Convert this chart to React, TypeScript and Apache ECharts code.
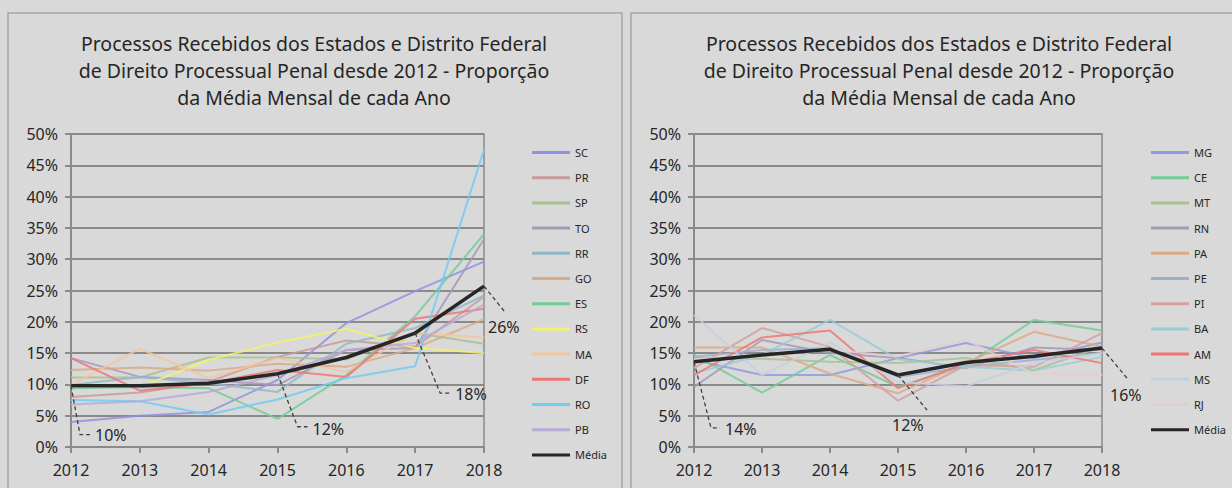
import React, { useEffect, useRef } from "react";
import * as echarts from "echarts";

const years = ["2012", "2013", "2014", "2015", "2016", "2017", "2018"];
const yTicks = { min: 0, max: 50, interval: 5 };

const titleLines = [
  "Processos Recebidos dos Estados e Distrito Federal",
  "de Direito Processual Penal desde 2012 - Proporção",
  "da Média Mensal de cada Ano",
];

// Left chart (values in %)
const leftNames = ["SC", "PR", "SP", "TO", "RR", "GO", "ES", "RS", "MA", "DF", "RO", "PB", "Média"];
const SC = [4.0, 5.0, 5.6, 10.7, 19.8, 24.9, 29.6];
const PR = [8.0, 8.7, 10.4, 14.4, 17.0, 16.0, 24.0];
const SP = [11.1, 11.1, 14.3, 14.3, 14.0, 18.2, 16.5];
const TO = [14.2, 11.2, 10.7, 9.9, 15.5, 15.8, 33.2];
const RR = [9.9, 11.2, 10.2, 8.8, 16.5, 19.0, 24.2];
const GO = [12.3, 12.7, 12.2, 13.3, 12.8, 15.8, 20.4];
const ES = [9.4, 9.6, 9.4, 4.5, 11.5, 20.9, 34.0];
const RS = [9.6, 9.6, 13.9, 16.7, 18.9, 15.8, 15.0];
const MA = [9.9, 15.7, 11.0, 14.2, 12.0, 18.2, 17.5];
const DF = [14.2, 9.0, 10.2, 12.3, 11.2, 20.5, 22.1];
const RO = [7.5, 7.3, 5.2, 7.6, 11.0, 12.9, 47.5];
const PB = [6.8, 7.3, 8.8, 11.5, 15.5, 16.6, 22.8];
const mediaLeft = [9.8, 9.8, 10.2, 11.7, 14.3, 18.2, 25.7];
const leftData = [SC, PR, SP, TO, RR, GO, ES, RS, MA, DF, RO, PB, mediaLeft];
const leftColors = ["#8f91e3", "#c99a9a", "#a9c18f", "#a699b8", "#90b8c4", "#d9aa86", "#72cc96", "#f2f26b", "#f4c59b", "#f07575", "#6fcdf0", "#b9a9d6", "#262626"];
const leftLabels = [
  { idx: 0, text: "10%" },
  { idx: 3, text: "12%" },
  { idx: 5, text: "18%" },
  { idx: 6, text: "26%" },
];

// Right chart (values in %)
const rightNames = ["MG", "CE", "MT", "RN", "PA", "PE", "PI", "BA", "AM", "MS", "RJ", "Média"];
const MG = [13.9, 11.5, 11.5, 14.2, 16.6, 14.2, 16.7];
const CE = [14.7, 8.7, 14.7, 9.6, 13.1, 20.3, 18.6];
const MT = [14.2, 14.1, 13.6, 13.4, 14.2, 12.3, 16.0];
const RN = [9.6, 17.1, 15.0, 14.2, 12.6, 15.9, 15.5];
const PA = [15.9, 15.9, 11.7, 8.6, 13.4, 18.4, 16.0];
const PE = [14.4, 15.5, 15.8, 11.2, 12.8, 13.9, 15.0];
const PI = [12.6, 19.0, 16.0, 7.4, 13.1, 12.8, 18.2];
const BA = [11.8, 14.7, 20.3, 14.0, 12.8, 12.2, 14.4];
const AM = [11.5, 17.5, 18.6, 9.4, 13.4, 15.5, 13.4];
const MS = [21.1, 11.5, 16.7, 10.4, 9.7, 13.4, 15.0];
const RJ = [14.0, 14.5, 15.5, 14.5, 17.1, 11.7, 11.5];
const mediaRight = [13.6, 14.7, 15.6, 11.5, 13.5, 14.5, 15.8];
const rightData = [MG, CE, MT, RN, PA, PE, PI, BA, AM, MS, RJ, mediaRight];
const rightColors = ["#8f99e3", "#72cc96", "#a9c18f", "#a699b8", "#dcaa82", "#9ab0d2", "#d4a0a0", "#98cdd6", "#f07575", "#c5cfe0", "#e6cccc", "#262626"];
const rightLabels = [
  { idx: 0, text: "14%" },
  { idx: 3, text: "12%" },
  { idx: 6, text: "16%" },
];

const FONT = "'Noto Sans', 'Open Sans', sans-serif";
const TEXT = "#262626";
const GRID = "#8a8a8a";

export default function App() {
  const ref = useRef<HTMLDivElement>(null);
  useEffect(() => {
    document.body.style.margin = "0";
    const chart = echarts.init(ref.current!, undefined, { renderer: "svg" });

    const mkGrid = (left: number, right: number) => ({
      left, right, top: 134, bottom: 41, show: true,
      borderColor: GRID, borderWidth: 1.5, backgroundColor: "transparent",
    });
    const mkX = (gi: number) => ({
      type: "category", gridIndex: gi, data: years, boundaryGap: false,
      axisLine: { lineStyle: { color: GRID, width: 2 } },
      axisTick: { show: true, length: 6, inside: false, lineStyle: { color: GRID, width: 2 } },
      axisLabel: { color: TEXT, fontSize: 16, fontFamily: FONT, margin: 15 },
      splitLine: { show: false },
    });
    const mkY = (gi: number) => ({
      type: "value", gridIndex: gi, ...yTicks,
      axisLine: { show: true, lineStyle: { color: GRID, width: 2 } },
      axisTick: { show: true, length: 6, lineStyle: { color: GRID, width: 2 } },
      axisLabel: { color: TEXT, fontSize: 16, fontFamily: FONT, margin: 13, formatter: "{value}%" },
      splitLine: { show: true, lineStyle: { color: GRID, width: 2 } },
    });
    const mkSeries = (names: string[], data: number[][], colors: string[], gi: number) =>
      names.map((n, i) => ({
        type: "line", name: n, xAxisIndex: gi, yAxisIndex: gi, data: data[i],
        symbol: "none", z: n === "Média" ? 5 : 2,
        color: colors[i],
        lineStyle: { color: colors[i], width: n === "Média" ? 3.5 : 2, opacity: n === "Média" ? 1 : 0.85 },
      }));
    const mkLegend = (names: string[], left: number) => ({
      orient: "vertical", left, top: 141, padding: 5, data: names.map((n) => ({ name: n, icon: "rect" })),
      itemWidth: 38, itemHeight: 3, itemGap: 12.2,
      textStyle: { fontSize: 11, color: TEXT, fontFamily: FONT, lineHeight: 13 },
      selectedMode: false,
    });

    chart.setOption({
      animation: false,
      backgroundColor: "#d9d9d9",
      grid: [mkGrid(71, 1232 - 484), mkGrid(694, 1232 - 1102)],
      xAxis: [mkX(0), mkX(1)],
      yAxis: [mkY(0), mkY(1)],
      legend: [mkLegend(leftNames, 527), mkLegend(rightNames, 1146)],
      series: [...mkSeries(leftNames, leftData, leftColors, 0), ...mkSeries(rightNames, rightData, rightColors, 1)],
    });

    const pt = (gi: number, i: number, v: number) =>
      chart.convertToPixel({ xAxisIndex: gi, yAxisIndex: gi }, [years[i], v]) as number[];

    const graphics: any[] = [
      { type: "rect", shape: { x: 8, y: 13, width: 614, height: 500 }, style: { fill: "none", stroke: "#a6a6a6", lineWidth: 1.5 }, silent: true },
      { type: "rect", shape: { x: 631, y: 13, width: 620, height: 500 }, style: { fill: "none", stroke: "#a6a6a6", lineWidth: 1.5 }, silent: true },
      ...[314, 939].map((cx) => ({
        type: "text", x: cx, y: 30,
        style: { text: titleLines.join("\n"), fill: TEXT, fontSize: 19.5, lineHeight: 27, fontFamily: FONT, align: "center", textAlign: "center", verticalAlign: "top" },
      })),
    ];

    // leader-line offsets per label: [bend], [end], [text]
    const leftOff: Record<string, number[][]> = {
      "10%": [[9, 49], [19, 49], [24, 49]],
      "12%": [[20, 53], [30, 53], [35, 55]],
      "18%": [[25, 60], [35, 60], [40, 61]],
      "26%": [[21, 26], [21, 26], [4, 41]],
    };
    const rightOff: Record<string, number[][]> = {
      "14%": [[17, 66], [26, 66], [31, 67]],
      "12%": [[29, 35], [29, 35], [-6, 50]],
      "16%": [[25, 30], [25, 30], [8, 47]],
    };
    const addLabels = (gi: number, labels: { idx: number; text: string }[], vals: number[], off: Record<string, number[][]>) => {
      labels.forEach(({ idx, text }) => {
        const [px, py] = pt(gi, idx, vals[idx]);
        const o = off[text];
        graphics.push({
          type: "polyline", silent: true, z: 10,
          shape: { points: [[px, py], [px + o[0][0], py + o[0][1]], [px + o[1][0], py + o[1][1]]] },
          style: { stroke: "#404040", lineWidth: 1.3, lineDash: [4, 3], fill: "none" },
        });
        graphics.push({
          type: "text", x: px + o[2][0], y: py + o[2][1], z: 10,
          style: { text, fill: TEXT, fontSize: 16, fontFamily: FONT, textAlign: "left", textVerticalAlign: "middle", verticalAlign: "middle" },
        });
      });
    };
    addLabels(0, leftLabels, mediaLeft, leftOff);
    addLabels(1, rightLabels, mediaRight, rightOff);

    chart.setOption({ graphic: graphics });

    return () => chart.dispose();
  }, []);
  return <div ref={ref} style={{ position: "absolute", left: 0, top: 0, width: 1232, height: 488 }} />;
}
